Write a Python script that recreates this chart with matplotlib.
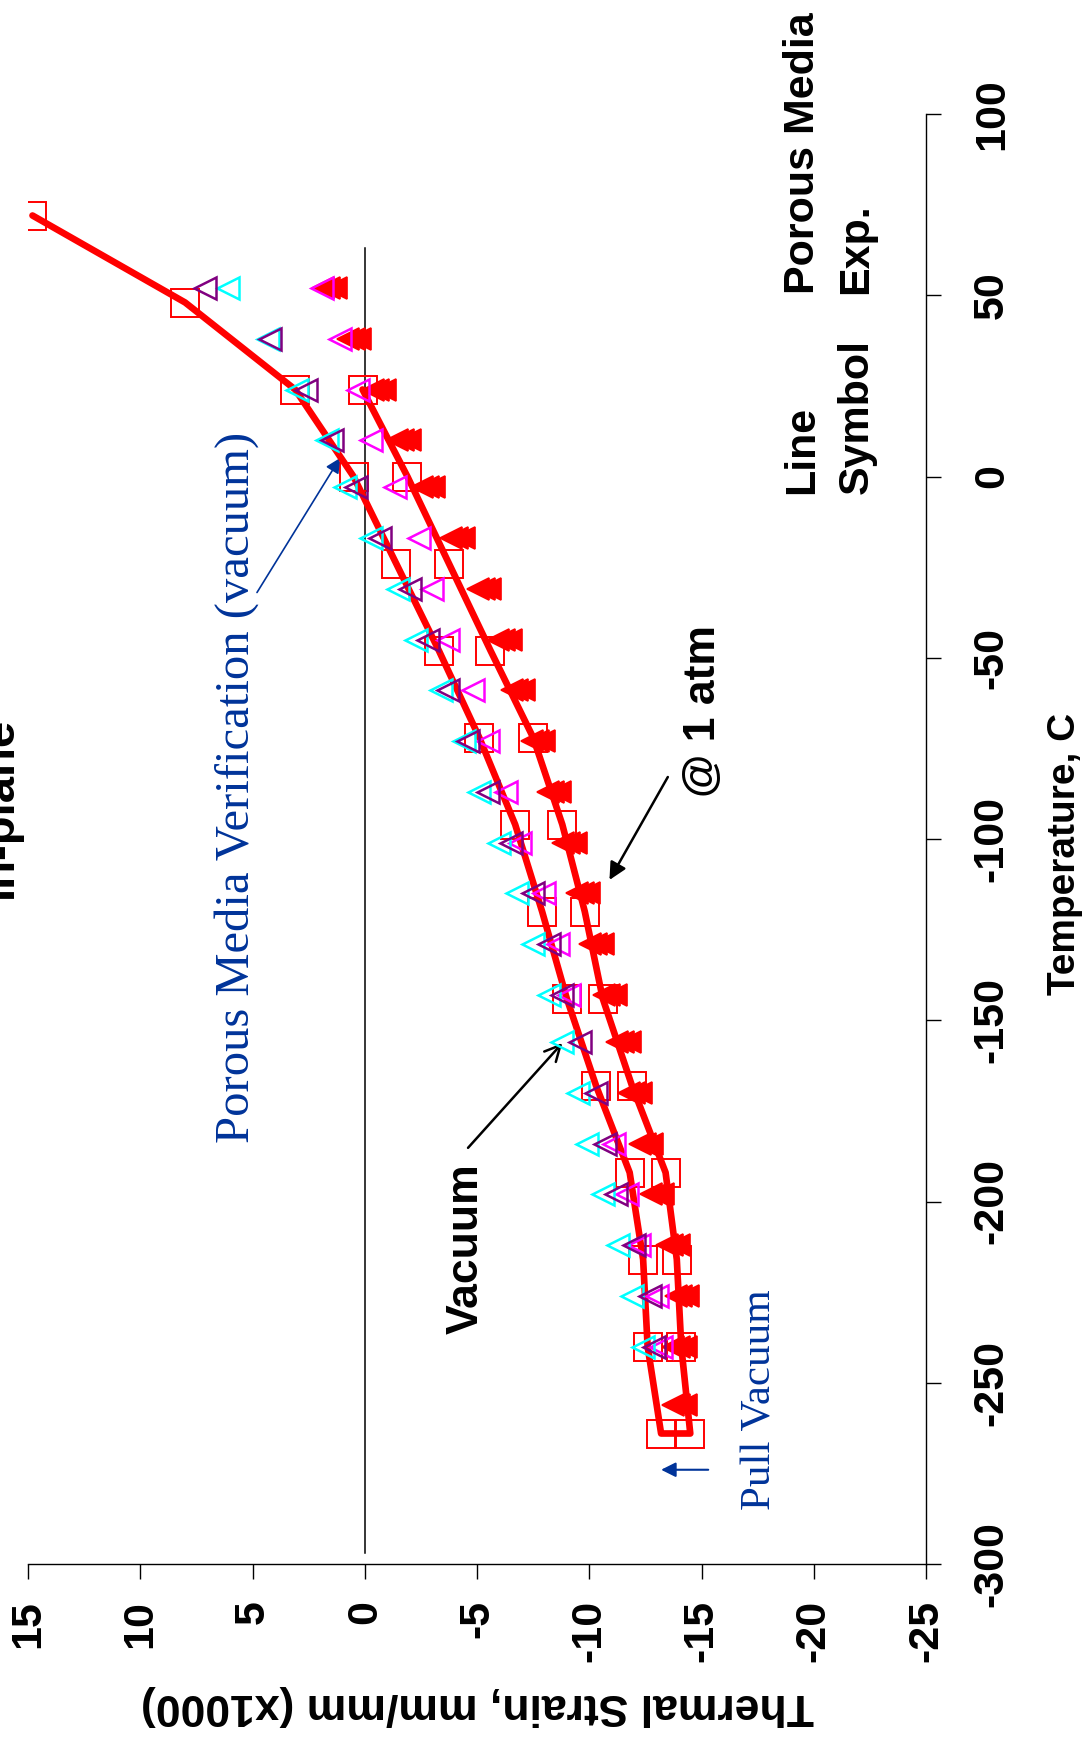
import numpy as np
import matplotlib
matplotlib.use("Agg")
from matplotlib import pyplot as plt

plt.rcParams['font.family'] = ['Liberation Sans', 'DejaVu Sans']
plt.rcParams['axes.unicode_minus'] = False

# porous media model (line + open squares)
model_temp_vac = [72, 48, 24, 0, -24, -48, -72, -96, -120, -144, -168, -192, -216, -240, -264]
model_vac = [14.8, 8.0, 3.1, 0.5, -1.4, -3.3, -5.1, -6.7, -7.9, -9.0, -10.3, -11.8, -12.4, -12.6, -13.2]
model_temp_atm = [24, 0, -24, -48, -72, -96, -120, -144, -168, -192, -216, -240, -264]
model_atm = [0.1, -1.9, -3.75, -5.6, -7.5, -8.8, -9.8, -10.6, -11.9, -13.4, -13.9, -14.1, -14.5]

# experiments (triangles)
exp_temp = [52, 38, 24, 10, -3, -17, -31, -45, -59, -73, -87, -101, -115, -129,
            -143, -156, -170, -184, -198, -212, -226, -240, -256]
nan = np.nan
exp_cyan = [6.1, 4.3, 3.0, 1.7, 0.9, -0.3, -1.5, -2.3, -3.4, -4.4, -5.1, -6.0, -6.8, -7.5,
            -8.2, -8.8, -9.5, -9.9, -10.6, -11.3, -11.9, -12.4, nan]
exp_purple = [7.1, 4.2, 2.6, 1.45, 0.4, -0.7, -2.0, -2.8, -3.7, -4.6, -5.5, -6.5, -7.5, -8.2,
              -8.8, -9.6, -10.3, -10.7, -11.2, -12.0, -12.7, -12.9, nan]
exp_magenta = [1.9, 1.1, 0.3, -0.3, -1.35, -2.4, -3.0, -3.7, -4.8, -5.5, -6.3, -6.9, -8.0, -8.6,
               -9.1, nan, nan, -11.1, -11.7, -12.2, -13.0, -13.2, nan]
exp_red1 = [1.85, 0.75, -0.35, -1.45, -2.55, -3.85, -5.05, -5.95, -6.55, -7.45, -8.15, -8.85, -9.45, -10.05,
            -10.65, -11.25, -11.75, -12.25, -12.75, -13.45, -13.85, -13.75, -13.75]
exp_red2 = [1.6, 0.5, -0.6, -1.7, -2.8, -4.1, -5.3, -6.2, -6.8, -7.7, -8.4, -9.1, -9.7, -10.3,
            -10.9, -11.5, -12.0, -12.5, -13.0, -13.7, -14.1, -14.0, -14.0]
exp_red3 = [1.3, 0.2, -0.9, -2.0, -3.1, -4.4, -5.6, -6.5, -7.1, -8.0, -8.7, -9.4, -10.0, -10.6,
            -11.2, -11.8, -12.3, -12.8, -13.3, -14.0, -14.4, -14.3, -14.3]

strain_ticks = [15, 10, 5, 0, -5, -10, -15, -20, -25]
temp_ticks = [-300, -250, -200, -150, -100, -50, 0, 50, 100]

red = '#FF0000'
blue = '#003399'

fig = plt.figure(figsize=(10.88, 17.39), dpi=100)
ax = fig.add_axes([28/1088, 1-1564/1739, (926-28)/1088, (1564-114)/1739])
ax.set_xlim(15, -25)
ax.set_ylim(-300, 100)

# zero strain reference line
ax.plot([0, 0], [-297, 63], color='black', lw=1.1, zorder=1)

# experimental symbols
for vals, col in [(exp_red3, red), (exp_red2, red), (exp_red1, red)]:
    ax.plot(vals, exp_temp, ls='none', marker='<', ms=16, mfc=col, mec=col, mew=1.2, zorder=3)
ax.plot(exp_magenta, exp_temp, ls='none', marker='<', ms=16, mfc='none', mec='#FF00FF', mew=1.8, zorder=4)
ax.plot(exp_cyan, exp_temp, ls='none', marker='<', ms=16, mfc='none', mec='#00FFFF', mew=1.8, zorder=4)
ax.plot(exp_purple, exp_temp, ls='none', marker='<', ms=16, mfc='none', mec='#800080', mew=1.8, zorder=4)

# model squares and the continuous model line (1 atm cool-down, pull vacuum, heat in vacuum)
ax.plot(model_vac, model_temp_vac, ls='none', marker='s', ms=20, mfc='none', mec=red, mew=1.4, zorder=2)
ax.plot(model_atm, model_temp_atm, ls='none', marker='s', ms=20, mfc='none', mec=red, mew=1.4, zorder=2)
line_x = np.concatenate([model_atm, model_vac[::-1]])
line_y = np.concatenate([model_temp_atm, model_temp_vac[::-1]])
ax.plot(line_x, line_y, color=red, lw=4.8, solid_joinstyle='round', solid_capstyle='round', zorder=3.5)

# axes styling
ax.spines['top'].set_visible(False)
ax.spines['left'].set_visible(False)
ax.spines['right'].set_linewidth(1.0)
ax.spines['bottom'].set_linewidth(1.0)
ax.yaxis.tick_right()
ax.set_xticks(strain_ticks, labels=[str(v) for v in strain_ticks])
ax.set_yticks(temp_ticks, labels=[str(v) for v in temp_ticks])
ax.tick_params(direction='out', length=11, width=1.0, labelsize=31)
ax.tick_params(axis='x', pad=15, labelrotation=90)
ax.tick_params(axis='y', pad=22, labelrotation=90)
for lab in ax.get_xticklabels() + ax.get_yticklabels():
    lab.set_fontweight('bold')
for lab in ax.get_yticklabels():
    lab.set_va('center')

# annotations
ax.text(5.73, -85.7, "Porous Media Verification (vacuum)", rotation=90, ha='center', va='center',
        family='Liberation Serif', fontsize=35, color=blue)
ax.annotate("", xy=(1.1, 5.1), xytext=(4.8, -32),
            arrowprops=dict(arrowstyle='-|>', color=blue, lw=1.2, mutation_scale=22,
                            shrinkA=0, shrinkB=0))
ax.text(-4.5, -213, "Vacuum", rotation=90, ha='center', va='center', fontsize=32, fontweight='bold')
ax.annotate("", xy=(-8.8, -156.3), xytext=(-4.6, -185.2),
            arrowprops=dict(arrowstyle='->', color='black', lw=1.8, mutation_scale=28,
                            shrinkA=0, shrinkB=0))
ax.text(-15.1, -64.7, "@ 1 atm", rotation=90, ha='center', va='center', fontsize=32, fontweight='bold')
ax.annotate("", xy=(-10.9, -111.3), xytext=(-13.5, -82.9),
            arrowprops=dict(arrowstyle='-|>', color='black', lw=1.8, mutation_scale=26,
                            shrinkA=0, shrinkB=0))
ax.text(-17.6, -254.8, "Pull Vacuum", rotation=90, ha='center', va='center',
        family='Liberation Serif', fontsize=31, color=blue)
ax.annotate("", xy=(-13.2, -274), xytext=(-15.3, -274),
            arrowprops=dict(arrowstyle='-|>', color=blue, lw=1.5, mutation_scale=22,
                            shrinkA=0, shrinkB=0))

# legend header
for txt, sx, ty in [("Line", -19.5, -4.8), ("Symbol", -21.9, -4.8),
                    ("Porous Media", -19.5, 50.3), ("Exp.", -21.9, 50.3)]:
    ax.text(sx, ty, txt, rotation=90, rotation_mode='anchor', ha='left', va='center',
            fontsize=31, fontweight='bold', clip_on=False)

# titles
fig.text(12/1088, 1-807/1739, "In-plane", rotation=90, rotation_mode='anchor', ha='center',
         va='baseline', fontsize=34, fontweight='bold')
fig.text(477/1088, 1-1705/1739, "Thermal Strain, mm/mm (x1000)", rotation=180, ha='center',
         va='center', fontsize=32, fontweight='bold')
fig.text(1065/1088, 1-854/1739, "Temperature, C", rotation=90, ha='center', va='center',
         fontsize=28, fontweight='bold')

fig.savefig("out.png", dpi=100)
